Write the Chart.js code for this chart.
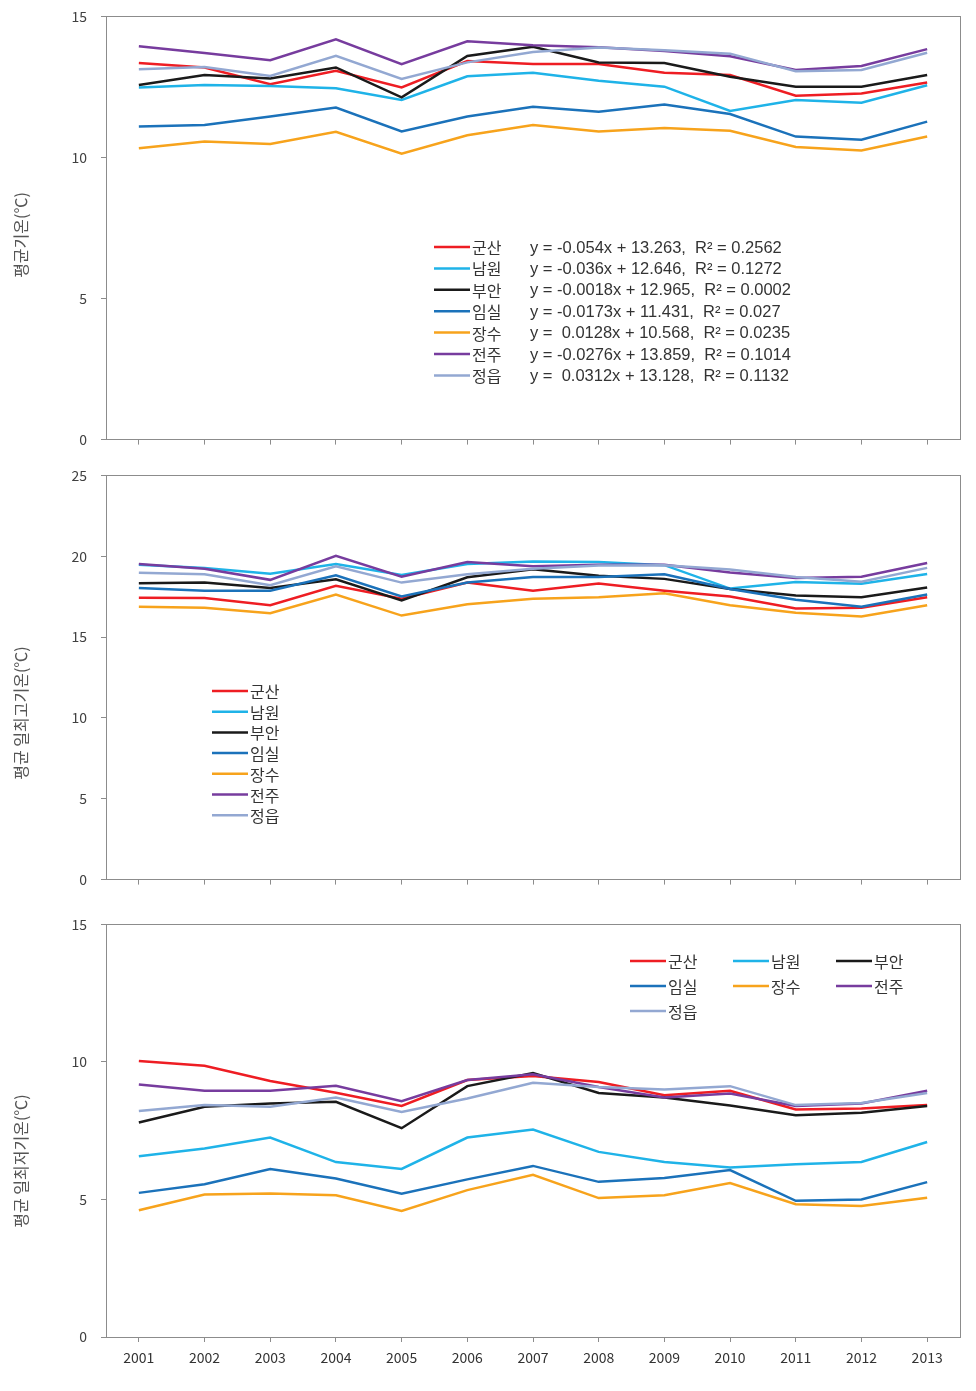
<!DOCTYPE html>
<html><head><meta charset="utf-8">
<script src="https://cdn.jsdelivr.net/npm/chart.js@4.4.1/dist/chart.umd.min.js"></script>
<style>
html,body{margin:0;padding:0;background:#fff;}
#wrap{position:relative;width:976px;height:1391px;overflow:hidden;}
canvas{position:absolute;left:0;}
</style></head><body>
<div id="wrap">
<canvas id="c1" width="976" height="468" style="top:-6px;width:976px;height:468px"></canvas>
<canvas id="c2" width="976" height="449" style="top:453px;width:976px;height:449px"></canvas>
<canvas id="c3" width="976" height="489" style="top:902px;width:976px;height:489px"></canvas>
</div>
<script>
// ---------- data ----------
const years = ['2001','2002','2003','2004','2005','2006','2007','2008','2009','2010','2011','2012','2013'];
const stations = ['군산','남원','부안','임실','장수','전주','정읍'];

// 평균기온
const meanGunsan   = [13.35,13.19,12.60,13.07,12.48,13.42,13.31,13.31,13.00,12.92,12.19,12.27,12.66];
const meanNamwon   = [12.48,12.57,12.53,12.45,12.04,12.88,13.00,12.72,12.51,11.65,12.04,11.94,12.56];
const meanBuan     = [12.57,12.92,12.80,13.19,12.13,13.60,13.92,13.37,13.35,12.86,12.51,12.51,12.92];
const meanImsil    = [11.10,11.15,11.45,11.77,10.92,11.45,11.80,11.62,11.88,11.54,10.74,10.63,11.27];
const meanJangsu   = [10.33,10.57,10.48,10.91,10.13,10.79,11.15,10.92,11.04,10.95,10.37,10.25,10.74];
const meanJeonju   = [13.94,13.70,13.45,14.19,13.31,14.12,13.98,13.91,13.77,13.59,13.10,13.24,13.84];
const meanJeongeup = [13.13,13.21,12.89,13.60,12.78,13.37,13.74,13.90,13.80,13.68,13.06,13.10,13.71];

// 평균 일최고기온
const maxGunsan   = [17.43,17.41,16.97,18.17,17.37,18.37,17.87,18.31,17.87,17.51,16.77,16.81,17.47];
const maxNamwon   = [19.48,19.28,18.92,19.52,18.84,19.52,19.68,19.64,19.45,18.00,18.40,18.30,18.90];
const maxBuan     = [18.33,18.37,18.03,18.57,17.27,18.70,19.20,18.80,18.60,17.97,17.57,17.47,18.07];
const maxImsil    = [18.03,17.87,17.87,18.82,17.51,18.37,18.71,18.71,18.88,17.97,17.31,16.87,17.63];
const maxJangsu   = [16.87,16.81,16.47,17.63,16.33,17.03,17.37,17.47,17.71,16.97,16.51,16.27,16.97];
const maxJeonju   = [19.52,19.23,18.54,20.02,18.73,19.64,19.38,19.48,19.48,19.00,18.65,18.73,19.58];
const maxJeongeup = [18.98,18.88,18.21,19.38,18.37,18.88,19.22,19.42,19.44,19.18,18.72,18.42,19.28];

// 평균 일최저기온
const minGunsan   = [10.03,9.86,9.31,8.88,8.40,9.34,9.49,9.27,8.79,8.95,8.27,8.31,8.43];
const minNamwon   = [6.57,6.85,7.25,6.36,6.11,7.25,7.54,6.73,6.36,6.16,6.28,6.36,7.09];
const minBuan     = [7.80,8.37,8.49,8.55,7.59,9.12,9.60,8.87,8.71,8.42,8.06,8.15,8.40];
const minImsil    = [5.24,5.55,6.11,5.76,5.21,5.73,6.22,5.64,5.78,6.07,4.95,5.00,5.63];
const minJangsu   = [4.61,5.18,5.22,5.15,4.58,5.34,5.90,5.05,5.15,5.60,4.83,4.76,5.06];
const minJeonju   = [9.18,8.95,8.95,9.13,8.57,9.34,9.55,9.09,8.71,8.85,8.40,8.49,8.95];
const minJeongeup = [8.22,8.43,8.37,8.71,8.18,8.67,9.24,9.09,9.00,9.12,8.43,8.51,8.87];

const trendEquations = [
  'y = -0.054x + 13.263,  R² = 0.2562',
  'y = -0.036x + 12.646,  R² = 0.1272',
  'y = -0.0018x + 12.965,  R² = 0.0002',
  'y = -0.0173x + 11.431,  R² = 0.027',
  'y =  0.0128x + 10.568,  R² = 0.0235',
  'y = -0.0276x + 13.859,  R² = 0.1014',
  'y =  0.0312x + 13.128,  R² = 0.1132'
];
const yTicks1 = [0, 5, 10, 15];
const yTicks2 = [0, 5, 10, 15, 20, 25];
const yTicks3 = [0, 5, 10, 15];

// ---------- styles ----------
const colors = ['#EE1D23','#1FB3E8','#1A1A1A','#1B72BA','#F7A31C','#773C9E','#93A8D2'];
const FONT = "'Noto Sans CJK KR', 'Noto Sans', sans-serif";
const EQFONT = "'Liberation Sans', Arial, sans-serif";
const AXIS = '#8c8c8c';

function makeDatasets(series) {
  return series.map((d, i) => ({
    label: stations[i], data: d, borderColor: colors[i], backgroundColor: colors[i],
    borderWidth: 2.5, pointRadius: 0, tension: 0, fill: false, order: series.length - i
  }));
}

const framePlugin = {
  id: 'frame',
  beforeDatasetsDraw(chart) {
    const a = chart.chartArea, ctx = chart.ctx;
    ctx.save();
    ctx.strokeStyle = AXIS; ctx.lineWidth = 1;
    ctx.strokeRect(Math.round(a.left) + 0.5, Math.round(a.top) + 0.5,
                   Math.round(a.right - a.left), Math.round(a.bottom - a.top));
    ctx.restore();
  }
};

function titlePlugin(text, cx, cy) {
  return {
    id: 'yTitle',
    afterDraw(chart) {
      const ctx = chart.ctx;
      ctx.save();
      ctx.translate(cx, cy); ctx.rotate(-Math.PI / 2);
      ctx.fillStyle = '#555'; ctx.font = '16px ' + FONT;
      ctx.textAlign = 'center'; ctx.textBaseline = 'middle';
      ctx.fillText(text, 0, 0);
      ctx.restore();
    }
  };
}

function legendPlugin(items) {
  return {
    id: 'customLegend',
    afterDatasetsDraw(chart) {
      const ctx = chart.ctx;
      ctx.save();
      items.forEach(it => {
        const ds = chart.data.datasets[it.i];
        ctx.strokeStyle = ds.borderColor; ctx.lineWidth = 2.5;
        ctx.beginPath(); ctx.moveTo(it.x, it.y); ctx.lineTo(it.x + 36, it.y); ctx.stroke();
        ctx.fillStyle = '#333'; ctx.font = '16px ' + FONT; ctx.textBaseline = 'middle'; ctx.textAlign = 'left';
        ctx.fillText(ds.label, it.x + 38, it.y + 1);
        if (it.eq !== undefined) {
          ctx.font = '16.5px ' + EQFONT;
          ctx.fillText(trendEquations[it.eq], it.ex, it.y + 1);
        }
      });
      ctx.restore();
    }
  };
}

function makeChart(id, series, yMax, yTickVals, title, titleY, xHeight, showX, legendItems) {
  return new Chart(document.getElementById(id), {
    type: 'line',
    data: { labels: years, datasets: makeDatasets(series) },
    options: {
      responsive: false, animation: false, devicePixelRatio: 1,
      layout: { padding: { top: 0, right: 16, left: 0, bottom: 0 } },
      plugins: { legend: { display: false }, tooltip: { enabled: false } },
      scales: {
        x: {
          offset: true,
          grid: { display: true, drawOnChartArea: false, drawTicks: true, tickLength: 5, color: AXIS, offset: false },
          border: { display: true, color: AXIS, width: 1 },
          ticks: { display: showX, color: '#333', font: { family: FONT, size: 14 }, padding: 7, maxRotation: 0, autoSkip: false },
          afterFit(s) { s.height = xHeight; }
        },
        y: {
          min: 0, max: yMax,
          afterBuildTicks(s) { s.ticks = yTickVals.map(v => ({ value: v })); },
          grid: { display: true, drawOnChartArea: false, drawTicks: true, tickLength: 5, color: AXIS },
          border: { display: true, color: AXIS, width: 1 },
          ticks: { color: '#404040', font: { family: FONT, size: 14 }, padding: 14 },
          title: { display: false, text: title },
          afterFit(s) { s.width = 106; }
        }
      }
    },
    plugins: [framePlugin, titlePlugin(title, 21, titleY), legendPlugin(legendItems)]
  });
}

const leg1 = stations.map((s, i) => ({ i, x: 434, y: 253 + i * 21.4, eq: i, ex: 530 }));
const leg2 = stations.map((s, i) => ({ i, x: 212, y: 238 + i * 20.7 }));
const leg3 = stations.map((s, i) => ({ i, x: [630, 733, 836][i % 3], y: 59 + Math.floor(i / 3) * 25 }));

makeChart('c1', [meanGunsan, meanNamwon, meanBuan, meanImsil, meanJangsu, meanJeonju, meanJeongeup],
  15, yTicks1, '평균기온(℃)', 241, 21, false, leg1);
makeChart('c2', [maxGunsan, maxNamwon, maxBuan, maxImsil, maxJangsu, maxJeonju, maxJeongeup],
  25, yTicks2, '평균 일최고기온(℃)', 260, 12, false, leg2);
makeChart('c3', [minGunsan, minNamwon, minBuan, minImsil, minJangsu, minJeonju, minJeongeup],
  15, yTicks3, '평균 일최저기온(℃)', 259, 54, true, leg3);
</script>
</body></html>
